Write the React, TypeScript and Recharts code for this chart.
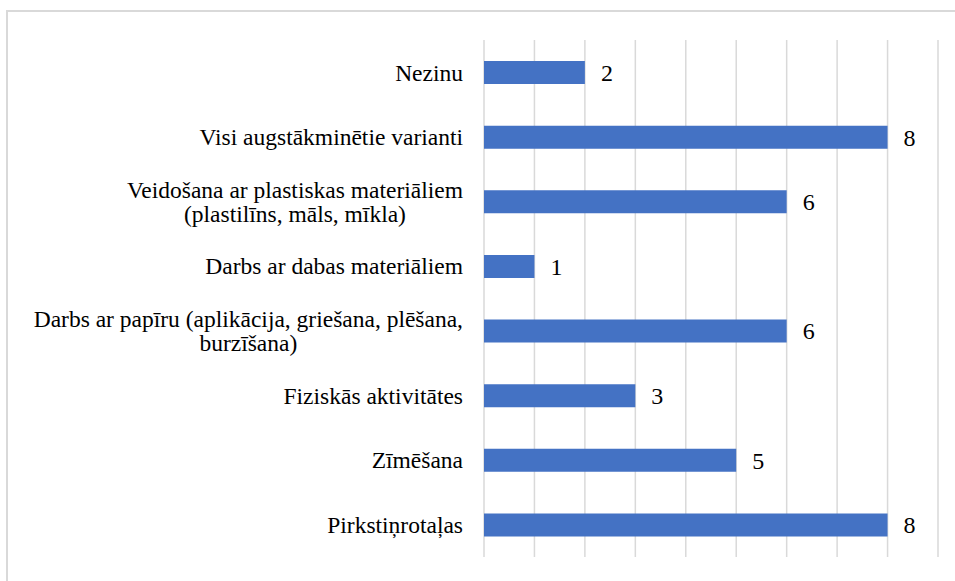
import React from 'react';
import { BarChart, Bar, XAxis, YAxis, CartesianGrid, LabelList } from 'recharts';

const categories = [
  'Nezinu',
  'Visi augstākminētie varianti',
  'Veidošana ar plastiskas materiāliem\n(plastilīns, māls, mīkla)',
  'Darbs ar dabas materiāliem',
  'Darbs ar papīru (aplikācija, griešana, plēšana,\nburzīšana)',
  'Fiziskās aktivitātes',
  'Zīmēšana',
  'Pirkstiņrotaļas',
];
const values = [2, 8, 6, 1, 6, 3, 5, 8];
const xTicks = [0, 1, 2, 3, 4, 5, 6, 7, 8, 9];

const data = categories.map((name, i) => ({ name, value: values[i] }));

const FONT = 'Liberation Serif';
const FS = 23.5;
const VFS = 24;
const LINE_H = 23.5;

const css = `
#root svg text.lv-serif, #root svg text.lv-serif tspan {
  font-family: 'Liberation Serif', 'Times New Roman', Tinos, serif !important;
}
`;

function measure(text: string): number {
  try {
    const ns = 'http://www.w3.org/2000/svg';
    const svg = document.createElementNS(ns, 'svg');
    svg.setAttribute('width', '0');
    svg.setAttribute('height', '0');
    svg.style.position = 'absolute';
    const t = document.createElementNS(ns, 'text');
    t.setAttribute('font-family', FONT);
    t.setAttribute('font-size', String(FS));
    t.textContent = text;
    svg.appendChild(t);
    document.body.appendChild(svg);
    const w = (t as SVGTextElement).getComputedTextLength();
    document.body.removeChild(svg);
    return w;
  } catch (e) {
    return text.length * FS * 0.42;
  }
}

const CategoryTick = (props: any) => {
  const { x, y, payload } = props;
  const lines = String(payload.value).split('\n');
  const right = x - 21;
  if (lines.length === 1) {
    return (
      <text className="lv-serif" x={right} y={y} dy="0.35em" textAnchor="end" fill="#000" fontSize={FS} fontFamily={FONT}>
        {lines[0]}
      </text>
    );
  }
  const maxW = Math.max(...lines.map(measure));
  const cx = right - maxW / 2;
  const startY = y - ((lines.length - 1) * LINE_H) / 2;
  return (
    <text className="lv-serif" textAnchor="middle" fill="#000" fontSize={FS} fontFamily={FONT}>
      {lines.map((l, i) => (
        <tspan key={i} x={cx} y={startY + i * LINE_H} dy="0.35em">
          {l}
        </tspan>
      ))}
    </text>
  );
};

const ValueLabel = (props: any) => {
  const { x, y, width, height, value } = props;
  return (
    <text className="lv-serif" x={x + width + 16} y={y + height / 2} dy="0.35em" textAnchor="start" fill="#000" fontSize={VFS} fontFamily={FONT}>
      {value}
    </text>
  );
};

export default function App() {
  return (
    <div style={{ position: 'absolute', left: 0, top: 0, width: 955, height: 581, background: '#fff', overflow: 'hidden' }}>
      <style>{css}</style>
      <div
        style={{
          position: 'absolute',
          left: 6,
          top: 10,
          width: 960,
          height: 580,
          borderTop: '2px solid #d9d9d9',
          borderLeft: '2px solid #d9d9d9',
        }}
      />
      <div style={{ position: 'absolute', left: 0, top: 0 }}>
        <BarChart
          layout="vertical"
          width={955}
          height={581}
          data={data}
          margin={{ top: 40, right: 17, bottom: 24, left: 0 }}
        >
          <CartesianGrid horizontal={false} stroke="#d9d9d9" strokeWidth={1.5} />
          <XAxis type="number" domain={[0, 9]} ticks={xTicks} hide />
          <YAxis
            type="category"
            dataKey="name"
            width={484}
            axisLine={false}
            tickLine={false}
            tickSize={0}
            tickMargin={0}
            interval={0}
            tick={<CategoryTick />}
          />
          <Bar dataKey="value" fill="#4472C4" barSize={23} isAnimationActive={false}>
            <LabelList dataKey="value" content={<ValueLabel />} />
          </Bar>
        </BarChart>
      </div>
    </div>
  );
}
